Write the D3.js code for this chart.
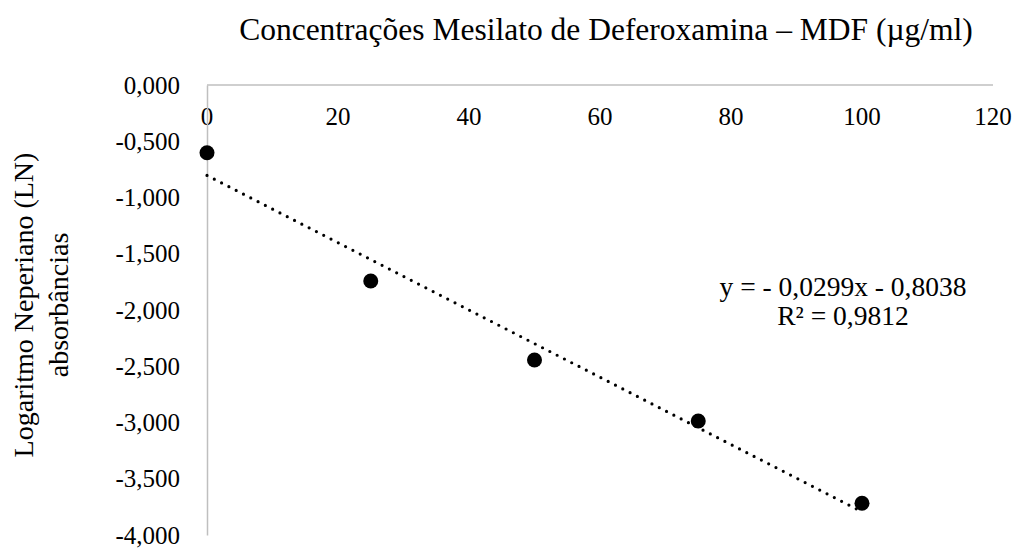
<!DOCTYPE html>
<html>
<head>
<meta charset="utf-8">
<script src="https://cdn.jsdelivr.net/npm/d3@7"></script>
<style>
  body { margin: 0; background: #fff; }
  svg text { font-family: "Liberation Serif", "Times New Roman", serif; fill: #000; }
</style>
</head>
<body>
<script>
// Data
const concentrations = [0, 25, 50, 75, 100];
const lnAbsorbance = [-0.602, -1.742, -2.444, -2.987, -3.718];
const trendSlope = -0.0299;
const trendIntercept = -0.8038;
const xTicks = [0, 20, 40, 60, 80, 100, 120];
const yTicks = [0, -0.5, -1, -1.5, -2, -2.5, -3, -3.5, -4];
const titleText = 'Concentrações Mesilato de Deferoxamina – MDF (µg/ml)';
const yLabelLines = ['Logaritmo Neperiano (LN)', 'absorbâncias'];
const equationLines = ['y = - 0,0299x - 0,8038', 'R² = 0,9812'];

const fullWidth = 1016;
const fullHeight = 548;
const margin = { top: 85, right: 23, bottom: 13, left: 207 };

const fmt = v => v.toFixed(3).replace('.', ',');

const svg = d3.select('body')
  .append('svg')
  .attr('width', fullWidth)
  .attr('height', fullHeight);

const xScale = d3.scaleLinear()
  .domain([0, 120])
  .range([margin.left, fullWidth - margin.right]);

const yScale = d3.scaleLinear()
  .domain([-4, 0])
  .range([fullHeight - margin.bottom, margin.top]);

// Title
svg.append('text')
  .attr('x', 606)
  .attr('y', 40)
  .attr('text-anchor', 'middle')
  .style('font-size', '31.5px')
  .text(titleText);

// X axis along y = 0 (top)
svg.append('line')
  .attr('x1', xScale(0))
  .attr('x2', xScale(120))
  .attr('y1', yScale(0))
  .attr('y2', yScale(0))
  .style('stroke', '#bfbfbf')
  .style('stroke-width', 1.5);

svg.append('g')
  .selectAll('text')
  .data(xTicks)
  .enter()
  .append('text')
  .attr('x', d => xScale(d))
  .attr('y', yScale(0) + 40)
  .attr('text-anchor', 'middle')
  .style('font-size', '25px')
  .text(d => d);

// Y axis
const yAxis = d3.axisLeft(yScale)
  .tickValues(yTicks)
  .tickFormat(fmt)
  .tickSize(0)
  .tickPadding(27);

const yG = svg.append('g')
  .attr('transform', `translate(${xScale(0)}, 0)`)
  .call(yAxis);

yG.select('.domain')
  .style('stroke', '#bfbfbf')
  .style('stroke-width', 1.5);

yG.selectAll('text')
  .style('font-family', '"Liberation Serif", "Times New Roman", serif')
  .style('font-size', '25px');

// Y label (two lines, rotated)
const yLabel = svg.append('text')
  .attr('transform', 'translate(33, 305) rotate(-90)')
  .attr('text-anchor', 'middle')
  .style('font-size', '28px');

yLabel.selectAll('tspan')
  .data(yLabelLines)
  .enter()
  .append('tspan')
  .attr('x', 0)
  .attr('dy', (d, i) => (i === 0 ? 0 : 35))
  .text(d => d);

// Trendline (dotted)
const trendX = [0, 100];
svg.append('line')
  .attr('x1', xScale(trendX[0]))
  .attr('y1', yScale(trendSlope * trendX[0] + trendIntercept))
  .attr('x2', xScale(trendX[1]))
  .attr('y2', yScale(trendSlope * trendX[1] + trendIntercept))
  .style('stroke', '#000')
  .style('stroke-width', 3.2)
  .style('stroke-linecap', 'round')
  .style('stroke-dasharray', '0 8.2');

// Points
svg.append('g')
  .selectAll('circle')
  .data(concentrations.map((c, i) => ({ x: c, y: lnAbsorbance[i] })))
  .enter()
  .append('circle')
  .attr('cx', d => xScale(d.x))
  .attr('cy', d => yScale(d.y))
  .attr('r', 7.5)
  .style('fill', '#000');

// Equation
svg.append('g')
  .selectAll('text')
  .data(equationLines)
  .enter()
  .append('text')
  .attr('x', 843)
  .attr('y', (d, i) => 296 + i * 29)
  .attr('text-anchor', 'middle')
  .style('font-size', '27.5px')
  .text(d => d);
</script>
</body>
</html>
